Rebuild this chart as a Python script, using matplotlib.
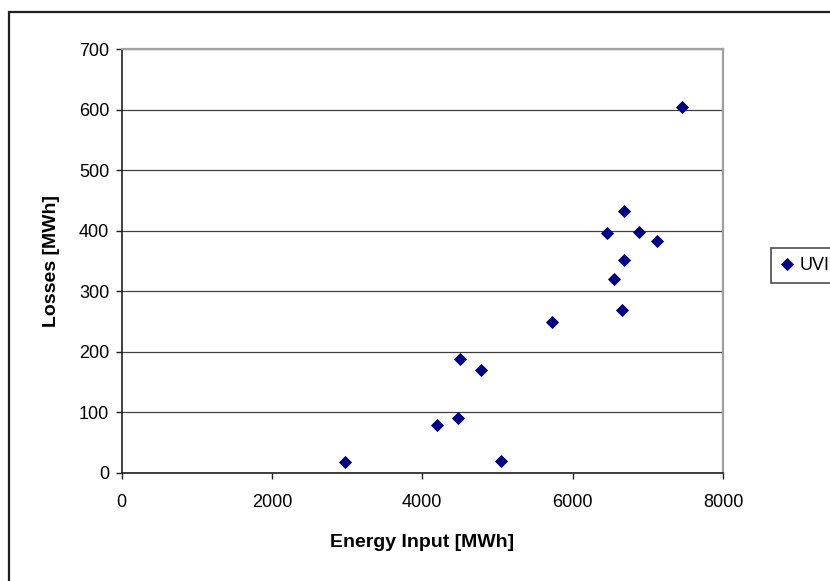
import matplotlib
matplotlib.use("Agg")
import matplotlib.pyplot as plt
from matplotlib.patches import Rectangle

# Data
energy_input = [2975, 4195, 4478, 4500, 4776, 5050, 5728, 6452, 6553, 6651,
                6678, 6678, 6877, 7125, 7457]
losses = [17, 79, 91, 188, 169, 20, 249, 396, 321, 269,
          352, 433, 398, 383, 604]
series_name = "UVI"
x_ticks = [0, 2000, 4000, 6000, 8000]
y_ticks = [0, 100, 200, 300, 400, 500, 600, 700]

plt.rcParams['font.family'] = ['Liberation Sans', 'DejaVu Sans']

W, H = 830, 581
fig = plt.figure(figsize=(W / 100, H / 100), dpi=100)
fig.patch.set_facecolor('white')

# outer chart frame
fig.add_artist(Rectangle((9 / W, -0.2), 1.2, 1.2 - 12 / H,
                         transform=fig.transFigure, fill=False,
                         edgecolor='#202020', linewidth=1.6, zorder=0))

left, right = 121.6 / W, 723 / W
bottom, top = 1 - 472.7 / H, 1 - 49.3 / H
ax = fig.add_axes([left, bottom, right - left, top - bottom])

ax.plot(energy_input, losses, linestyle='none', marker='D', markersize=6.4,
        markerfacecolor='#000080', markeredgecolor='#000080',
        markeredgewidth=0.6, label=series_name, zorder=3)

ax.set_xlim(0, 8000)
ax.set_ylim(0, 700)
ax.set_xticks(x_ticks)
ax.set_yticks(y_ticks)
ax.set_xticklabels([str(v) for v in x_ticks])
ax.set_yticklabels([str(v) for v in y_ticks])

ax.yaxis.grid(True, color='#404040', linewidth=0.9)
ax.set_axisbelow(True)

for s in ['top', 'right']:
    ax.spines[s].set_color('#a0a0a0')
    ax.spines[s].set_linewidth(1.6)
for s in ['left', 'bottom']:
    ax.spines[s].set_color('#202020')
    ax.spines[s].set_linewidth(1.2)

ax.tick_params(axis='both', direction='out', length=4, width=1.0,
               color='#202020', labelsize=13, labelcolor='black')
ax.tick_params(axis='y', pad=5)
ax.tick_params(axis='x', pad=11)

ax.set_xlabel('Energy Input [MWh]', fontsize=14, fontweight='bold')
ax.set_ylabel('Losses [MWh]', fontsize=14, fontweight='bold')
ax.xaxis.set_label_coords(0.5, -0.144)
ax.yaxis.set_label_coords(-0.103, 0.5)

leg = ax.legend(loc='upper left', bbox_to_anchor=(771 / W, 1 - 248 / H),
                bbox_transform=fig.transFigure, frameon=True, fancybox=False,
                borderaxespad=0, borderpad=0.5, handlelength=0.8,
                handletextpad=0.3, fontsize=13, markerscale=1.0)
leg.get_frame().set_edgecolor('#202020')
leg.get_frame().set_linewidth(1.2)

fig.savefig('out.png', dpi=100)
